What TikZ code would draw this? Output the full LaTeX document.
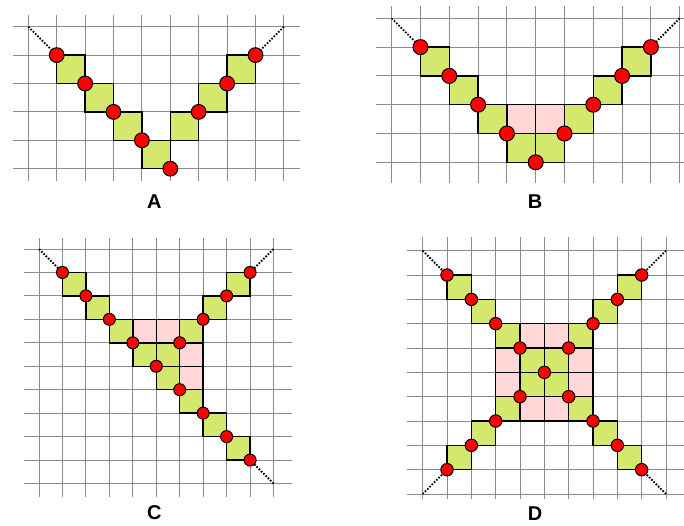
\documentclass[tikz,border=0pt]{standalone}
\usepackage{fontspec}
\setmainfont{Liberation Sans}
\definecolor{gridc}{HTML}{8C8C8C}
\definecolor{limec}{HTML}{D5E86E}
\definecolor{pinkc}{HTML}{FFD7D7}
\tikzset{
 gridline/.style={draw=gridc, line width=1pt},
 gsq/.style={fill=limec, draw=black, line width=1.4pt},
 psq/.style={fill=pinkc, draw=black, line width=1.4pt},
 dotline/.style={draw=black, line width=1.8pt, dash pattern=on 1.6pt off 1.6pt},
 reddot/.style={fill=red, draw=black, line width=1pt},
 lbl/.style={font=\fontsize{20}{22}\selectfont\bfseries, inner sep=0pt}
}
\newcommand\GreenSq[2]{\filldraw[gsq] (#1,#2) rectangle ++(1,1);}
\newcommand\PinkSq[2]{\filldraw[psq] (#1,#2) rectangle ++(1,1);}
\newcommand\RedDot[2]{\filldraw[reddot] (#1,#2) circle[radius=\dotrad];}
\newcommand\dotrad{6.5pt}
\begin{document}
\begin{tikzpicture}[x=1pt,y=-1pt]
\useasboundingbox (0,0) rectangle (684,525);
\clip (0,0) rectangle (684,525);

% ---------- Panel A ----------
\begin{scope}[shift={(28.3,26.7)}, x=28.4pt, y=-28.4pt]
 \foreach \i in {0,...,9} \draw[gridline] (\i,-0.41) -- (\i,5.44);
 \foreach \j in {0,...,5} \draw[gridline] (-0.54,\j) -- (9.58,\j);
 \foreach \c/\r in {1/1,2/2,3/3,4/4,5/3,6/2,7/1} {\GreenSq{\c}{\r}}
 \draw[dotline] (0,0) -- (1,1);
 \draw[dotline] (9,0) -- (8,1);
 \renewcommand\dotrad{7.4pt}
 \foreach \c/\r in {1/1,2/2,3/3,4/4,5/5,6/3,7/2,8/1} {\RedDot{\c}{\r}}
\end{scope}
\node[lbl] (labA) at (154.3,201.7) {A};

% ---------- Panel B ----------
\begin{scope}[shift={(391.7,18.3)}, x=28.8pt, y=-28.8pt]
 \foreach \i in {0,...,10} \draw[gridline] (\i,-0.43) -- (\i,5.72);
 \foreach \j in {0,...,5} \draw[gridline] (-0.545,\j) -- (10.6,\j);
 \foreach \c/\r in {1/1,2/2,3/3,4/4,5/4,6/3,7/2,8/1} {\GreenSq{\c}{\r}}
 \foreach \c/\r in {4/3,5/3} {\PinkSq{\c}{\r}}
 \draw[dotline] (0,0) -- (1,1);
 \draw[dotline] (10,0) -- (9,1);
 \renewcommand\dotrad{7.5pt}
 \foreach \c/\r in {1/1,2/2,3/3,4/4,5/5,6/4,7/3,8/2,9/1} {\RedDot{\c}{\r}}
\end{scope}
\node[lbl] (labB) at (535,201.7) {B};

% ---------- Panel C ----------
\begin{scope}[shift={(39,249)}, x=23.45pt, y=-23.45pt]
 \foreach \i in {0,...,10} \draw[gridline] (\i,-0.46) -- (\i,10.56);
 \foreach \j in {0,...,10} \draw[gridline] (-0.64,\j) -- (10.78,\j);
 \foreach \c/\r in {1/1,2/2,3/3,4/4,5/4,5/5,6/6,7/7,8/8,8/1,7/2,6/3} {\GreenSq{\c}{\r}}
 \foreach \c/\r in {4/3,5/3,6/4,6/5} {\PinkSq{\c}{\r}}
 \draw[dotline] (0,0) -- (1,1);
 \draw[dotline] (10,0) -- (9,1);
 \draw[dotline] (10,10) -- (9,9);
 \renewcommand\dotrad{6.0pt}
 \foreach \c/\r in {1/1,2/2,3/3,4/4,5/5,6/6,7/7,8/8,9/9,9/1,8/2,7/3,6/4} {\RedDot{\c}{\r}}
\end{scope}
\node[lbl] (labC) at (154.3,512.7) {C};

% ---------- Panel D ----------
\begin{scope}[shift={(422.7,250.7)}, x=24.33pt, y=-24.33pt]
 \foreach \i in {0,...,10} \draw[gridline] (\i,-0.55) -- (\i,10.22);
 \foreach \j in {0,...,10} \draw[gridline] (-0.63,\j) -- (11.5,\j);
 \foreach \c/\r in {1/1,2/2,3/3,4/4,5/4,4/5,5/5,6/3,7/2,8/1,3/6,2/7,1/8,6/6,7/7,8/8} {\GreenSq{\c}{\r}}
 \foreach \c/\r in {4/3,5/3,3/4,3/5,6/4,6/5,4/6,5/6} {\PinkSq{\c}{\r}}
 \draw[dotline] (0,0) -- (1,1);
 \draw[dotline] (10,0) -- (9,1);
 \draw[dotline] (0,10) -- (1,9);
 \draw[dotline] (10,10) -- (9,9);
 \renewcommand\dotrad{6.2pt}
 \foreach \c/\r in {1/1,2/2,3/3,4/4,5/5,6/4,7/3,8/2,9/1,4/6,6/6,3/7,2/8,1/9,7/7,8/8,9/9} {\RedDot{\c}{\r}}
\end{scope}
\node[lbl] (labD) at (535,513.3) {D};
\end{tikzpicture}
\end{document}
